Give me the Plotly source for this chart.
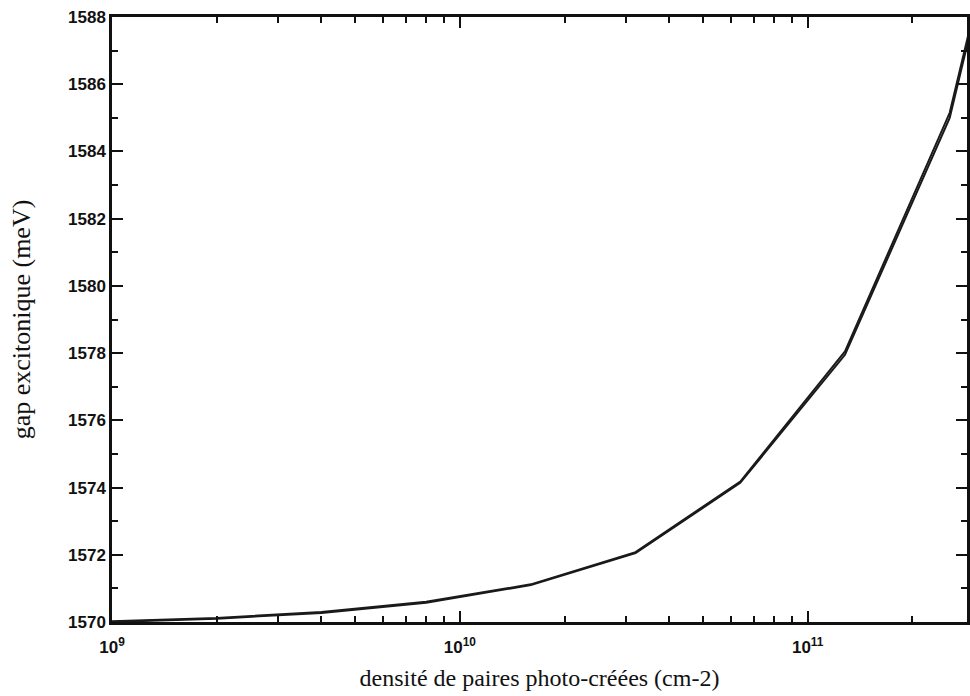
import plotly.graph_objects as go

# photo-created pair density (cm-2)
density = [1e9, 2e9, 4e9, 8e9, 1.6e10, 3.2e10, 6.4e10, 1.28e11, 2.56e11, 5.12e11]
# excitonic gap (meV), two nearly overlapping curves
gap_a = [1570.0, 1570.1, 1570.27, 1570.57, 1571.1, 1572.05, 1574.14, 1577.95, 1585.0, 1598.0]
gap_b = [1570.02, 1570.12, 1570.3, 1570.6, 1571.12, 1572.08, 1574.18, 1578.05, 1585.15, 1598.2]

x_major = [1e9, 1e10, 1e11]
x_major_text = ["10<sup>9</sup>", "10<sup>10</sup>", "10<sup>11</sup>"]
y_major = [1570, 1572, 1574, 1576, 1578, 1580, 1582, 1584, 1586, 1588]

x_minor = [m * d for d in (1e9, 1e10, 1e11) for m in range(2, 10)]

fig = go.Figure()
for g in (gap_a, gap_b):
    fig.add_trace(go.Scatter(x=density, y=g, mode="lines",
                             line=dict(color="#1a1a1a", width=2), showlegend=False))

tickfont = dict(family="Liberation Sans", size=17, color="#111", weight="bold")

fig.update_layout(
    width=970, height=696,
    margin=dict(l=112, r=0, t=17, b=74),
    paper_bgcolor="white", plot_bgcolor="white",
    xaxis=dict(
        type="log", range=[9, 11.458],
        tickmode="array", tickvals=x_major, ticktext=x_major_text,
        ticks="inside", ticklen=11, tickwidth=2, tickcolor="#111",
        ticklabelstandoff=8,
        minor=dict(tickmode="array", tickvals=x_minor, ticks="inside",
                   ticklen=6, tickwidth=2, tickcolor="#111", showgrid=False),
        showline=True, linecolor="#111", linewidth=2.5, mirror="allticks",
        showgrid=False, zeroline=False, tickfont=tickfont,
        title=dict(text="densité de paires photo-créées (cm-2)", standoff=14,
                   font=dict(family="Liberation Serif", size=24, color="#111")),
    ),
    yaxis=dict(
        range=[1570, 1588],
        tickmode="array", tickvals=y_major,
        ticks="inside", ticklen=11, tickwidth=2, tickcolor="#111",
        minor=dict(dtick=1, ticks="inside", ticklen=6, tickwidth=2,
                   tickcolor="#111", showgrid=False),
        showline=True, linecolor="#111", linewidth=2.5, mirror="allticks",
        showgrid=False, zeroline=False, tickfont=tickfont,
        title=dict(text="gap excitonique (meV)", standoff=30,
                   font=dict(family="Liberation Serif", size=26, color="#111")),
    ),
)

fig.write_html(
    "out.html",
    config={"displayModeBar": False},
    post_script="document.body.style.margin='0';document.body.style.overflow='hidden';",
)
